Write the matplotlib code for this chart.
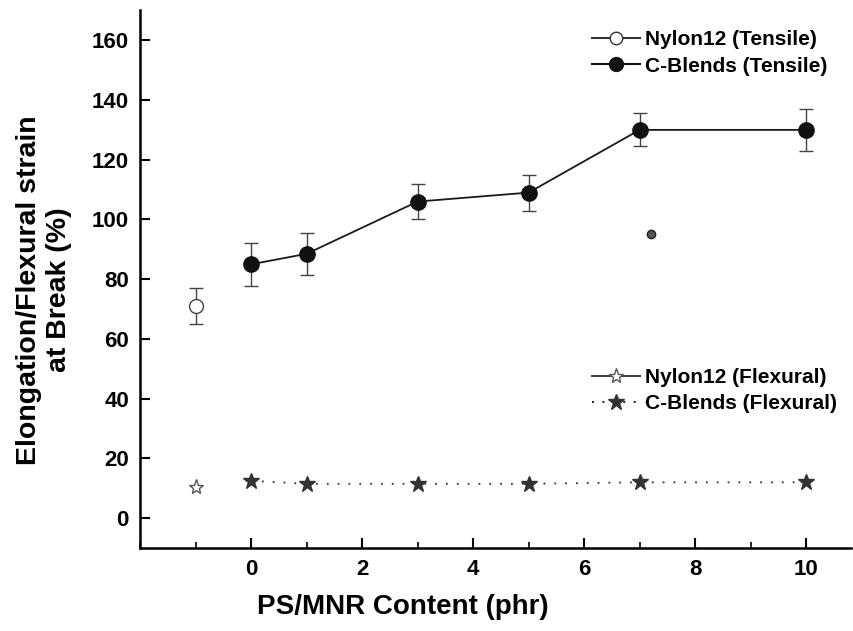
import matplotlib

matplotlib.use("Agg")
import matplotlib.pyplot as plt
from matplotlib.lines import Line2D
from matplotlib.ticker import MultipleLocator

plt.rcParams["font.family"] = ["Liberation Sans", "DejaVu Sans"]
plt.rcParams["font.weight"] = "bold"

# Nylon12 reference (plotted at x=-1)
nylon_tens_x = [-1]
nylon_tens_y = [71]
nylon_tens_err = [6]
stray_x = [7.2]
stray_y = [95]

# C-Blends
blend_x = [0, 1, 3, 5, 7, 10]
blend_tens_y = [85, 88.5, 106, 109, 130, 130]
blend_tens_err = [7.2, 7, 5.8, 6, 5.5, 7]

nylon_flex_x = [-1]
nylon_flex_y = [10.5]
blend_flex_y = [12.5, 11.5, 11.5, 11.5, 12, 12]

fig = plt.figure(figsize=(8.54, 6.31), dpi=100)
ax = fig.add_axes([0.164, 0.1315, 0.832, 0.852])

ax.errorbar(nylon_tens_x, nylon_tens_y, yerr=nylon_tens_err, fmt="o", color="#444444",
            mfc="white", mec="#444444", ms=10, elinewidth=1, capsize=5, capthick=1)
ax.plot(stray_x, stray_y, "o", color="#333333", mfc="#555555", mec="#222222", ms=6)
ax.errorbar(blend_x, blend_tens_y, yerr=blend_tens_err, fmt="-o", color="#1a1a1a",
            mfc="#111111", mec="#111111", ms=11, lw=1.3, elinewidth=1, ecolor="#444444",
            capsize=5, capthick=1)

ax.plot(nylon_flex_x, nylon_flex_y, "-*", color="#555555", mfc="white", mec="#555555",
        ms=11, lw=1.3)
ax.plot(blend_x, blend_flex_y, linestyle=(0, (1, 5)), marker="*", color="#333333",
        ms=12, lw=1.3)

h1 = Line2D([], [], color="#333333", lw=1.5, marker="o", mfc="white", mec="#333333", ms=9,
            label="Nylon12 (Tensile)")
h2 = Line2D([], [], color="#111111", lw=1.5, marker="o", mfc="#111111", mec="#111111", ms=10,
            label="C-Blends (Tensile)")
h3 = Line2D([], [], color="#444444", lw=1.5, marker="*", mfc="white", mec="#555555", ms=11,
            label="Nylon12 (Flexural)")
h4 = Line2D([], [], color="#333333", lw=1.5, linestyle=(0, (1, 4)), marker="*", ms=12,
            label="C-Blends (Flexural)")

leg_kw = dict(loc="upper left", frameon=False, fontsize=15, handlelength=2.3,
              handletextpad=0.25, borderpad=0, borderaxespad=0, labelspacing=0.35)
leg1 = ax.legend(handles=[h1, h2], bbox_to_anchor=(0.636, 0.963), **leg_kw)
ax.add_artist(leg1)
ax.legend(handles=[h3, h4], bbox_to_anchor=(0.636, 0.335), **leg_kw)

ax.set_xlim(-2, 10.8)
ax.set_ylim(-10, 170)
ax.set_xticks([0, 2, 4, 6, 8, 10])
ax.xaxis.set_minor_locator(MultipleLocator(1))
ax.set_yticks(range(0, 161, 20))
ax.tick_params(direction="in", length=7, width=1.5, labelsize=16, pad=8)
ax.tick_params(which="minor", direction="in", length=4, width=1.2)
ax.spines["top"].set_visible(False)
ax.spines["right"].set_visible(False)
ax.spines["left"].set_linewidth(1.8)
ax.spines["bottom"].set_linewidth(1.8)

ax.set_xlabel("PS/MNR Content (phr)", fontsize=20, fontweight="bold", labelpad=14)
ax.xaxis.set_label_coords(0.37, -0.085)
ax.set_ylabel("Elongation/Flexural strain\nat Break (%)", fontsize=20.5, fontweight="bold",
              labelpad=14)
ax.yaxis.label.set_y(0.48)

fig.savefig("out.png", dpi=100)
